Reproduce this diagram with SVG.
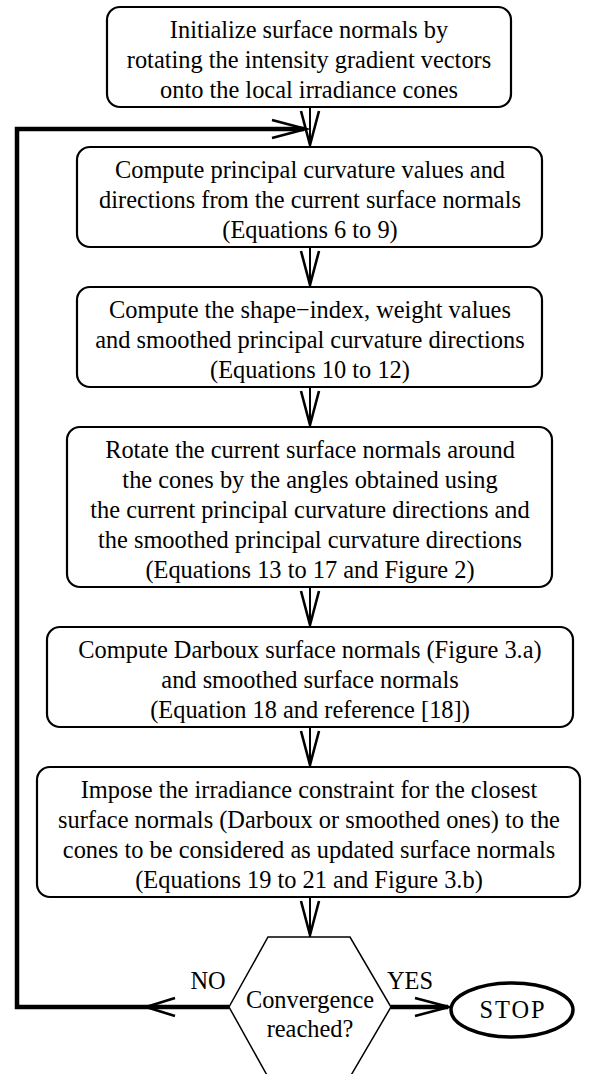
<svg xmlns="http://www.w3.org/2000/svg" width="589" height="1074" viewBox="0 0 589 1074">
<style>
.box{fill:#fff;stroke:#000;stroke-width:2.2}
.hex{fill:#fff;stroke:#000;stroke-width:1.5}
.stop{fill:#fff;stroke:#000;stroke-width:3.5}
text{font-family:"Liberation Serif","Times New Roman",serif;font-size:24.4px;fill:#000;text-anchor:middle}
.ln{fill:none;stroke:#000;stroke-width:2}
.thick{fill:none;stroke:#000;stroke-width:4.5}
.head{fill:none;stroke:#000;stroke-width:2.6;stroke-linejoin:miter;stroke-miterlimit:20}
</style>
<rect width="589" height="1074" fill="#fff"/>
<g id="connectors">
<line class="ln" x1="310" y1="107" x2="310" y2="146"/>
<polyline class="head" points="301,111 310,145 319,111"/>
<line class="ln" x1="310" y1="247" x2="310" y2="286"/>
<polyline class="head" points="301,251 310,285 319,251"/>
<line class="ln" x1="310" y1="387" x2="310" y2="426"/>
<polyline class="head" points="301,391 310,425 319,391"/>
<line class="ln" x1="310" y1="587" x2="310" y2="626"/>
<polyline class="head" points="301,591 310,625 319,591"/>
<line class="ln" x1="310" y1="727" x2="310" y2="766"/>
<polyline class="head" points="301,731 310,765 319,731"/>
<line class="ln" x1="310" y1="897" x2="310" y2="936"/>
<polyline class="head" points="301,901 310,935 319,901"/>
<path class="thick" d="M229,1007 H17 V129 H304"/>
<polyline class="head" points="272,120 306,129 272,138"/>
<polyline class="head" points="175,998 146,1007 175,1016"/>
<line class="thick" x1="391" y1="1007" x2="448" y2="1007"/>
<polyline class="head" points="415,998 449,1007 415,1016"/>
<text x="208" y="989">NO</text>
<text x="410" y="989">YES</text>
</g>
<g id="n1">
<rect class="box" x="107" y="7" width="404" height="100" rx="13"/>
<text x="309" y="38">Initialize surface normals by</text>
<text x="309" y="68">rotating the intensity gradient vectors</text>
<text x="309" y="98">onto the local irradiance cones</text>
</g>
<g id="n2">
<rect class="box" x="77" y="147" width="465" height="100" rx="13"/>
<text x="310" y="178">Compute principal curvature values and</text>
<text x="310" y="208">directions from the current surface normals</text>
<text x="310" y="238">(Equations 6 to 9)</text>
</g>
<g id="n3">
<rect class="box" x="77" y="287" width="465" height="100" rx="13"/>
<text x="310" y="318">Compute the shape−index, weight values</text>
<text x="310" y="348">and smoothed principal curvature directions</text>
<text x="310" y="378">(Equations 10 to 12)</text>
</g>
<g id="n4">
<rect class="box" x="67" y="427" width="485" height="160" rx="13"/>
<text x="310" y="458">Rotate the current surface normals around</text>
<text x="310" y="488">the cones by the angles obtained using</text>
<text x="310" y="518">the current principal curvature directions and</text>
<text x="310" y="548">the smoothed principal curvature directions</text>
<text x="310" y="578">(Equations 13 to 17 and Figure 2)</text>
</g>
<g id="n5">
<rect class="box" x="47" y="627" width="526" height="100" rx="13"/>
<text x="310" y="658">Compute Darboux surface normals (Figure 3.a)</text>
<text x="310" y="688">and smoothed surface normals</text>
<text x="310" y="718">(Equation 18 and reference [18])</text>
</g>
<g id="n6">
<rect class="box" x="37" y="767" width="543" height="130" rx="13"/>
<text x="309" y="798">Impose the irradiance constraint for the closest</text>
<text x="309" y="828">surface normals (Darboux or smoothed ones) to the</text>
<text x="309" y="858">cones to be considered as updated surface normals</text>
<text x="309" y="888">(Equations 19 to 21 and Figure 3.b)</text>
</g>
<g id="decision">
<polygon class="hex" points="268,937 350,937 391,1007 350,1077 268,1077 229,1007"/>
<text x="310" y="1008">Convergence</text>
<text x="310" y="1037">reached?</text>
</g>
<g id="stop">
<ellipse class="stop" cx="512" cy="1010" rx="61" ry="27"/>
<text x="513" y="1018" letter-spacing="2">STOP</text>
</g>
</svg>
